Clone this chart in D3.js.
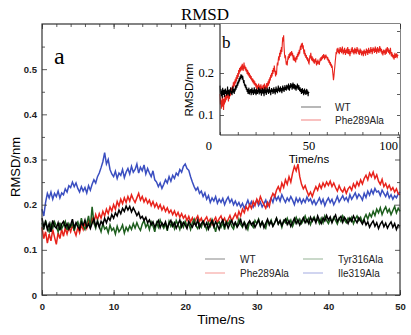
<!DOCTYPE html>
<html>
<head>
<meta charset="utf-8">
<script src="https://cdn.jsdelivr.net/npm/d3@7"></script>
<style>
  body { margin: 0; background: #fff; }
  svg { display: block; }
</style>
</head>
<body>
<div id="chart"></div>
<script>
// sampled every 0.25 ns, values in nm
var timeStep = 0.25;

var wt = [
  .170,.150,.162,.145, .158,.140,.165,.152, .148,.160,.143,.157, .163,.150,.158,.146, .155,.168,.149,.160,
  .152,.145,.161,.154, .166,.150,.157,.147, .159,.168,.153,.162, .150,.163,.156,.170, .160,.172,.165,.178,
  .170,.182,.175,.188, .180,.192,.185,.197, .188,.196,.184,.193, .185,.176,.183,.170, .174,.165,.172,.160,
  .166,.155,.162,.150, .158,.165,.149,.160, .153,.162,.147,.158, .165,.152,.160,.148, .157,.166,.151,.161,
  .155,.147,.163,.156, .150,.160,.154,.166, .149,.158,.163,.152, .160,.146,.157,.164, .151,.162,.155,.145,
  .159,.166,.152,.160, .148,.158,.165,.154, .161,.150,.157,.167, .153,.160,.147,.158, .164,.155,.161,.150,
  .158,.166,.153,.162, .149,.159,.168,.155, .163,.152,.160,.170, .157,.165,.154,.163, .168,.156,.164,.152,
  .161,.170,.158,.166, .155,.163,.171,.160, .167,.158,.172,.163, .170,.160,.175,.165, .158,.171,.164,.176,
  .166,.173,.160,.170, .177,.163,.169,.174, .161,.172,.166,.158, .170,.163,.175,.167, .160,.171,.164,.157,
  .166,.155,.162,.150, .158,.164,.152,.160, .147,.157,.163,.151, .159,.148,.156,.162, .150,.158,.145,.155,
  .152
];

var tyr316Ala = [
  .160,.145,.165,.150, .140,.158,.148,.162, .152,.140,.160,.147, .155,.163,.144,.158, .150,.160,.142,.156,
  .162,.148,.170,.153, .145,.158,.175,.150, .195,.160,.148,.165, .152,.140,.158,.146, .150,.138,.155,.143,
  .148,.135,.152,.140, .146,.155,.137,.150, .142,.153,.145,.158, .148,.160,.150,.143, .157,.165,.150,.158,
  .145,.162,.153,.140, .160,.150,.166,.155, .148,.158,.142,.163, .152,.160,.147,.165, .156,.145,.160,.150,
  .163,.152,.158,.145, .160,.168,.153,.147, .158,.150,.163,.155, .145,.160,.152,.167, .155,.140,.158,.162,
  .150,.160,.145,.163, .157,.165,.152,.146, .160,.153,.168,.156, .150,.162,.155,.145, .163,.157,.150,.165,
  .158,.168,.152,.162, .155,.148,.165,.158, .166,.153,.160,.170, .157,.163,.150,.165, .160,.170,.158,.166,
  .152,.163,.172,.160, .168,.158,.165,.175, .162,.170,.156,.167, .173,.163,.168,.158, .170,.160,.175,.165,
  .158,.168,.162,.172, .165,.157,.170,.163, .175,.166,.160,.170, .164,.172,.158,.168, .175,.165,.172,.160,
  .170,.178,.168,.180, .173,.185,.176,.190, .182,.193,.178,.188, .195,.183,.190,.178, .187,.196,.182,.192,
  .185
];

var phe289Ala = [
  .150,.125,.140,.115, .135,.120,.145,.128, .112,.138,.125,.145, .130,.148,.135,.150, .140,.155,.143,.132,
  .150,.138,.155,.145, .160,.148,.165,.155, .170,.160,.178,.166, .180,.170,.185,.175, .190,.180,.195,.186,
  .200,.190,.207,.197, .212,.202,.215,.205, .218,.208,.222,.212, .205,.215,.225,.210, .218,.206,.214,.203,
  .210,.198,.207,.195, .203,.192,.200,.188, .196,.185,.193,.182, .188,.178,.186,.175, .183,.172,.180,.170,
  .176,.165,.174,.162, .171,.160,.168,.175, .163,.170,.158,.167, .173,.161,.168,.156, .165,.172,.160,.169,
  .175,.163,.170,.158, .167,.176,.164,.172, .180,.170,.185,.175, .190,.182,.196,.188, .200,.192,.207,.198,
  .212,.203,.218,.208, .200,.192,.205,.196, .215,.225,.218,.232, .240,.230,.248,.238, .255,.245,.262,.250,
  .270,.285,.275,.290, .262,.245,.235,.242, .230,.220,.228,.218, .230,.240,.232,.245, .236,.248,.240,.250,
  .243,.252,.240,.248, .238,.230,.242,.233, .228,.237,.225,.235, .240,.232,.246,.238, .250,.242,.255,.246,
  .258,.265,.255,.270, .262,.272,.258,.266, .252,.245,.256,.240, .247,.236,.243,.232, .238,.228,.235,.224,
  .222
];

var ile319Ala = [
  .190,.175,.205,.225, .215,.228,.212,.225, .218,.230,.215,.226, .222,.235,.228,.242, .238,.250,.240,.248,
  .236,.228,.240,.230, .238,.226,.242,.232, .245,.255,.248,.262, .270,.282,.295,.315, .290,.300,.278,.268,
  .262,.274,.258,.270, .265,.278,.260,.272, .280,.268,.285,.272, .278,.290,.270,.283, .275,.288,.268,.280,
  .270,.262,.275,.255, .250,.240,.248,.236, .245,.255,.248,.262, .252,.265,.258,.270, .265,.278,.272,.285,
  .290,.280,.276,.262, .250,.240,.232,.238, .225,.230,.218,.226, .212,.220,.205,.215, .208,.218,.203,.212,
  .205,.214,.200,.210, .217,.205,.212,.200, .208,.198,.205,.195, .203,.192,.200,.210, .198,.207,.195,.203,
  .210,.198,.206,.195, .202,.210,.197,.206, .215,.205,.220,.210, .218,.208,.222,.213, .205,.215,.208,.218,
  .210,.200,.215,.206, .214,.203,.212,.205, .217,.208,.213,.202, .210,.200,.207,.215, .203,.212,.198,.208,
  .215,.205,.212,.200, .208,.218,.206,.213, .220,.210,.216,.207, .222,.212,.219,.226, .214,.223,.218,.210,
  .225,.216,.230,.221, .233,.224,.236,.228, .230,.220,.232,.225, .218,.228,.215,.222, .212,.220,.215,.224,
  .228
];

// Phe289Ala continued to 100 ns (inset b), from 50.25 ns on
var phe289AlaLong = [
  .230,.242,.235, .248,.238,.230,.240, .228,.236,.225,.233, .222,.232,.226,.235, .224,.218,.229,.221,
  .232,.222,.228,.219, .226,.235,.228,.238, .230,.240,.233,.243, .236,.245,.238,.232, .242,.235,.244,.237,
  .240,.232,.238,.228, .234,.224,.230,.220, .226,.216,.222,.212, .218,.205,.195,.183, .192,.205,.215,.228,
  .238,.250,.245,.258, .250,.260,.248,.256, .245,.255,.262,.250, .258,.247,.255,.263, .252,.244,.256,.248,
  .260,.250,.243,.255, .248,.258,.246,.262, .253,.245,.257,.249, .240,.252,.246,.258, .250,.262,.255,.247,
  .256,.244,.252,.260, .248,.257,.245,.253, .262,.251,.258,.246, .254,.243,.250,.258, .247,.255,.242,.251,
  .245,.253,.240,.249, .256,.246,.252,.241, .250,.258,.247,.255, .243,.252,.260,.248, .255,.246,.253,.262,
  .250,.257,.245,.254, .261,.252,.258,.248, .255,.263,.250,.258, .246,.255,.262,.251, .258,.248,.256,.264,
  .252,.260,.249,.257, .245,.253,.242,.250, .256,.247,.254,.243, .250,.258,.246,.255, .262,.251,.259,.248,
  .255,.244,.252,.260, .248,.240,.250,.238, .246,.235,.243,.232, .240,.248,.236,.245, .238,.247,.235,.244,
  .240
];

var mainSeries = ["WT", "Phe289Ala", "Tyr316Ala", "Ile319Ala"];
var colors = { "WT": "#000000", "Phe289Ala": "#e8231c", "Tyr316Ala": "#1d5e1d", "Ile319Ala": "#3a4ec0" };
var seriesData = { "WT": wt, "Phe289Ala": phe289Ala, "Tyr316Ala": tyr316Ala, "Ile319Ala": ile319Ala };
var drawOrder = ["Ile319Ala", "Phe289Ala", "Tyr316Ala", "WT"];

var timeTicks = [0, 10, 20, 30, 40, 50];
var rmsdTicks = [0, 0.1, 0.2, 0.3, 0.4, 0.5];
var insetTimeTicks = [0, 50, 100];
var insetRmsdTicks = [0.1, 0.2];

var W = 411, H = 335;
var box = { left: 42, right: 400, top: 24, bottom: 295 };
var inset = { left: 220, right: 400, top: 24, bottom: 135 };

var svg = d3.select("#chart").append("svg")
  .attr("width", W).attr("height", H)
  .style("font-family", "'Liberation Sans', Arial, sans-serif");

var x = d3.scaleLinear().domain([0, 50]).range([box.left, box.right]);
var y = d3.scaleLinear().domain([0, 0.6]).range([box.bottom, box.top + 0]);

var line = d3.line()
  .x(function (d, i) { return x(i * timeStep); })
  .y(function (d) { return y(d); });

// series
drawOrder.forEach(function (name) {
  svg.append("path")
    .datum(seriesData[name])
    .attr("fill", "none")
    .attr("stroke", colors[name])
    .attr("stroke-width", 1.5)
    .attr("stroke-linejoin", "miter")
    .attr("d", line);
});

// ticks, all pointing inward
function addTicks(g, axis) { g.call(axis); g.select(".domain").remove(); }

addTicks(svg.append("g").attr("transform", "translate(0," + box.bottom + ")"),
  d3.axisBottom(x).tickValues(timeTicks).tickSize(-5).tickPadding(8).tickFormat(d3.format("d")));
addTicks(svg.append("g").attr("transform", "translate(0," + box.bottom + ")"),
  d3.axisBottom(x).tickValues(d3.range(0, 51, 2)).tickSize(-3).tickFormat(""));
addTicks(svg.append("g").attr("transform", "translate(0," + box.top + ")"),
  d3.axisTop(x).tickValues(timeTicks).tickSize(-5).tickFormat(""));
addTicks(svg.append("g").attr("transform", "translate(0," + box.top + ")"),
  d3.axisTop(x).tickValues(d3.range(0, 51, 2)).tickSize(-3).tickFormat(""));
addTicks(svg.append("g").attr("transform", "translate(" + box.left + ",0)"),
  d3.axisLeft(y).tickValues(rmsdTicks).tickSize(-5).tickPadding(5).tickFormat(function (d) { return d === 0 ? "0" : d3.format(".1f")(d); }));
addTicks(svg.append("g").attr("transform", "translate(" + box.left + ",0)"),
  d3.axisLeft(y).tickValues(d3.range(0.05, 0.6, 0.1)).tickSize(-3).tickFormat(""));
addTicks(svg.append("g").attr("transform", "translate(" + box.right + ",0)"),
  d3.axisRight(y).tickValues(rmsdTicks).tickSize(-5).tickFormat(""));
addTicks(svg.append("g").attr("transform", "translate(" + box.right + ",0)"),
  d3.axisRight(y).tickValues(d3.range(0.05, 0.6, 0.1)).tickSize(-3).tickFormat(""));

svg.selectAll(".tick line").attr("stroke", "#333").attr("stroke-width", 0.8);
svg.selectAll(".tick text")
  .attr("fill", "#222")
  .style("font-family", "'Liberation Sans', Arial, sans-serif")
  .style("font-size", "9.5px")
  .style("font-weight", "bold");

// frame
svg.append("rect")
  .attr("x", box.left).attr("y", box.top)
  .attr("width", box.right - box.left).attr("height", box.bottom - box.top)
  .attr("fill", "none").attr("stroke", "#333").attr("stroke-width", 1.2);

// titles
svg.append("text")
  .attr("x", 205).attr("y", 20)
  .attr("text-anchor", "middle")
  .style("font-family", "'Liberation Serif', 'Times New Roman', serif")
  .style("font-size", "17px")
  .text("RMSD");

svg.append("text")
  .attr("x", 54).attr("y", 64)
  .style("font-family", "'Liberation Serif', 'Times New Roman', serif")
  .style("font-size", "24px")
  .text("a");

svg.append("text")
  .attr("x", (box.left + box.right) / 2).attr("y", 324)
  .attr("text-anchor", "middle")
  .style("font-size", "13.5px")
  .text("Time/ns");

svg.append("text")
  .attr("transform", "translate(20,167) rotate(-90)")
  .attr("text-anchor", "middle")
  .style("font-size", "13px")
  .text("RMSD/nm");

// legend (2 columns)
var legend = svg.append("g").selectAll("g")
  .data(mainSeries)
  .enter().append("g")
  .attr("transform", function (d, i) {
    return "translate(" + (205 + Math.floor(i / 2) * 98) + "," + (259 + (i % 2) * 14) + ")";
  });
legend.append("line")
  .attr("x1", 0).attr("x2", 20)
  .attr("stroke", function (d) { return colors[d]; })
  .attr("stroke-opacity", 0.6)
  .attr("stroke-width", 0.8);
legend.append("text")
  .attr("x", 35).attr("dy", "0.35em")
  .style("font-size", "10px")
  .attr("fill", "#222")
  .text(function (d) { return d; });

// ---------- inset b ----------
var gi = svg.append("g");
gi.append("rect")
  .attr("x", inset.left).attr("y", inset.top)
  .attr("width", inset.right - inset.left).attr("height", inset.bottom - inset.top)
  .attr("fill", "#fff");

var xi = d3.scaleLinear().domain([0, 100]).range([220, 398]);
var yi = d3.scaleLinear().domain([0.05, 0.3]).range([136, 31]);

var lineI = d3.line()
  .x(function (d, i) { return xi(i * timeStep); })
  .y(function (d) { return yi(d); });

gi.append("path")
  .datum(phe289Ala.concat(phe289AlaLong))
  .attr("fill", "none").attr("stroke", colors["Phe289Ala"]).attr("stroke-width", 1.1)
  .attr("d", lineI);
gi.append("path")
  .datum(wt)
  .attr("fill", "none").attr("stroke", colors["WT"]).attr("stroke-width", 1.1)
  .attr("d", lineI);

function insetTicks(axis, tr) {
  var g = gi.append("g").attr("transform", tr).call(axis);
  g.select(".domain").remove();
  g.selectAll(".tick line").attr("stroke", "#333").attr("stroke-width", 0.8);
  return g;
}
insetTicks(d3.axisBottom(xi).tickValues(d3.range(0, 101, 10)).tickSize(-3).tickFormat(""), "translate(0," + inset.bottom + ")");
insetTicks(d3.axisLeft(yi).tickValues(insetRmsdTicks).tickSize(-4).tickFormat(""), "translate(" + inset.left + ",0)");
insetTicks(d3.axisRight(yi).tickValues(d3.range(0.1, 0.31, 0.05)).tickSize(-3).tickFormat(""), "translate(" + inset.right + ",0)");

gi.append("line")
  .attr("x1", inset.left).attr("x2", inset.left)
  .attr("y1", inset.top).attr("y2", inset.bottom)
  .attr("stroke", "#333").attr("stroke-width", 1.2);
gi.append("line")
  .attr("x1", inset.left).attr("x2", inset.right)
  .attr("y1", inset.bottom).attr("y2", inset.bottom)
  .attr("stroke", "#333").attr("stroke-width", 1.2);

var serif = "'Liberation Serif', 'Times New Roman', serif";
gi.selectAll(".ylab")
  .data(insetRmsdTicks)
  .enter().append("text")
  .attr("x", inset.left - 6).attr("y", function (d) { return yi(d); })
  .attr("dy", "0.35em").attr("text-anchor", "end")
  .style("font-family", serif).style("font-size", "12.5px")
  .text(function (d) { return d3.format(".1f")(d); });

gi.selectAll(".xlab")
  .data(insetTimeTicks)
  .enter().append("text")
  .attr("x", function (d) { return d === 0 ? xi(d) - 8 : xi(d); })
  .attr("y", inset.bottom + 15)
  .attr("text-anchor", function (d) { return d === 50 ? "middle" : "end"; })
  .style("font-family", serif).style("font-size", "12.5px")
  .text(function (d) { return d; });

gi.append("text")
  .attr("x", xi(50)).attr("y", 163)
  .attr("text-anchor", "middle")
  .style("font-size", "11.5px")
  .text("Time/ns");

gi.append("text")
  .attr("transform", "translate(193,90) rotate(-90)")
  .attr("text-anchor", "middle")
  .style("font-size", "11.5px")
  .text("RMSD/nm");

gi.append("text")
  .attr("x", 222).attr("y", 48)
  .style("font-family", serif).style("font-size", "17px")
  .text("b");

var legI = gi.append("g").selectAll("g")
  .data(["WT", "Phe289Ala"])
  .enter().append("g")
  .attr("transform", function (d, i) { return "translate(301," + (107 + i * 13) + ")"; });
legI.append("line")
  .attr("x1", 0).attr("x2", 20)
  .attr("stroke", function (d) { return colors[d]; })
  .attr("stroke-opacity", 0.7)
  .attr("stroke-width", 0.8);
legI.append("text")
  .attr("x", 34).attr("dy", "0.35em")
  .style("font-size", "10px")
  .attr("fill", "#222")
  .text(function (d) { return d; });
</script>
</body>
</html>
